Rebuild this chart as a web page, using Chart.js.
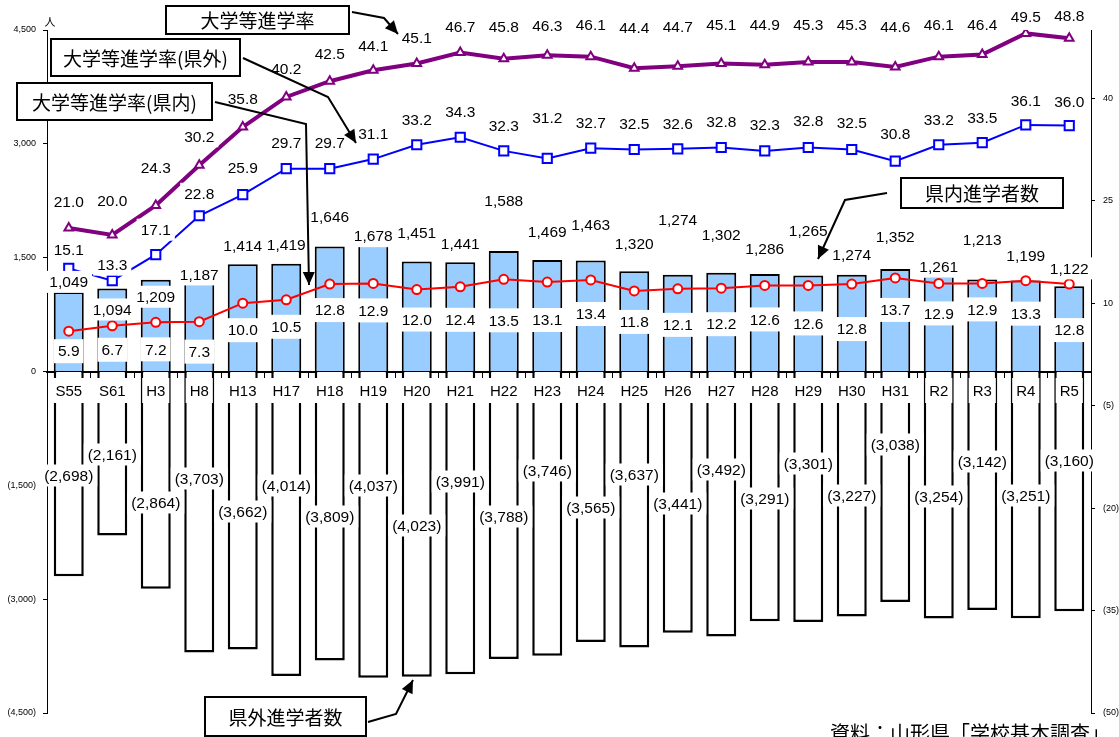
<!DOCTYPE html>
<html lang="ja">
<head>
<meta charset="utf-8">
<script src="https://cdn.jsdelivr.net/npm/chart.js@4.4.1/dist/chart.umd.min.js"></script>
<style>
  html, body { margin: 0; padding: 0; background: #fff; }
  #wrap { width: 1119px; height: 737px; position: relative; }
</style>
</head>
<body>
<div id="wrap"><canvas id="chart"></canvas></div>
<script>
// ---- data ----
const years = ['S55', 'S61', 'H3', 'H8', 'H13', 'H17', 'H18', 'H19', 'H20', 'H21', 'H22', 'H23',
               'H24', 'H25', 'H26', 'H27', 'H28', 'H29', 'H30', 'H31', 'R2', 'R3', 'R4', 'R5'];
const inPrefCount = [1049, 1094, 1209, 1187, 1414, 1419, 1646, 1678, 1451, 1441, 1588, 1469,
                     1463, 1320, 1274, 1302, 1286, 1265, 1274, 1352, 1261, 1213, 1199, 1122];
const outPrefCount = [2698, 2161, 2864, 3703, 3662, 4014, 3809, 4037, 4023, 3991, 3788, 3746,
                      3565, 3637, 3441, 3492, 3291, 3301, 3227, 3038, 3254, 3142, 3251, 3160];
const rateTotal = [21.0, 20.0, 24.3, 30.2, 35.8, 40.2, 42.5, 44.1, 45.1, 46.7, 45.8, 46.3,
                   46.1, 44.4, 44.7, 45.1, 44.9, 45.3, 45.3, 44.6, 46.1, 46.4, 49.5, 48.8];
const rateOut = [15.1, 13.3, 17.1, 22.8, 25.9, 29.7, 29.7, 31.1, 33.2, 34.3, 32.3, 31.2,
                 32.7, 32.5, 32.6, 32.8, 32.3, 32.8, 32.5, 30.8, 33.2, 33.5, 36.1, 36.0];
const rateIn = [5.9, 6.7, 7.2, 7.3, 10.0, 10.5, 12.8, 12.9, 12.0, 12.4, 13.5, 13.1,
                13.4, 11.8, 12.1, 12.2, 12.6, 12.6, 12.8, 13.7, 12.9, 12.9, 13.3, 12.8];
const countTicks = [-4500, -3000, -1500, 0, 1500, 3000, 4500];
const rateTicks = [-50, -35, -20, -5, 10, 25, 40];

// label nudges in px (the labels were dragged by hand in the original)
const nudgeTotal = [-26, -34, -38, -29, -28, -28, -28, -25, -26, -26, -32, -30,
                    -32, -41, -39, -39, -40, -37, -37, -40, -32, -30, -17, -22];
const nudgeOut = [-19, -16, -25, -22, -27, -26, -26, -25, -25, -26, -25, -41,
                  -25, -26, -25, -26, -26, -27, -27, -27, -25, -25, -24, -24];
const nudgeIn = [20, 24, 27, 30, 27, 27, 26, 27, 30, 33, 41, 38,
                 34, 31, 36, 36, 34, 38, 45, 32, 30, 26, 33, 46];
const nudgeInCount = [-10, 21, 17, -7, -18, -19, -30, -8, -29, -18, -50, -28,
                      -36, -28, -55, -38, -25, -45, -20, -32, -9, -40, -25, -18];
const nudgeOutCount = [104, 83, 131, 107, 140, 114, 145, 114, 154, 110, 145, 99,
                       136, 103, 132, 98, 127, 92, 124, 73, 125, 90, 124, 89];

const NUM_FONT = '"Liberation Sans", Arial, sans-serif';
const JP_FONT = '"Noto Sans CJK JP", "Noto Sans", sans-serif';

const fmt = v => v.toLocaleString('en-US');

// ----------------------------------------------------
// category labels on the zero line + value labels, all in white boxes
// ----------------------------------------------------
const valueLabels = {
    id: 'valueLabels',
    afterDraw(chart) {
        const ctx = chart.ctx;
        const xScale = chart.scales.x;
        const zeroY = chart.scales.y.getPixelForValue(0);
        ctx.save();
        ctx.textAlign = 'center';
        ctx.textBaseline = 'middle';
        const put = (text, x, y, h) => {
            const w = ctx.measureText(text).width + 8;
            ctx.fillStyle = '#fff';
            ctx.fillRect(x - w / 2, y - h / 2, w, h);
            ctx.fillStyle = '#000';
            ctx.fillText(text, x, y + 1);
        };

        ctx.font = '15px ' + NUM_FONT;
        years.forEach((yr, i) => put(yr, xScale.getPixelForValue(i), zeroY + 19, 25));

        ctx.font = '15.5px ' + NUM_FONT;
        chart.getDatasetMeta(0).data.forEach((el, i) => put(fmt(inPrefCount[i]), el.x, el.y + nudgeInCount[i], 22));
        chart.getDatasetMeta(1).data.forEach((el, i) => put('(' + fmt(outPrefCount[i]) + ')', el.x, zeroY + nudgeOutCount[i], 22));
        chart.getDatasetMeta(2).data.forEach((el, i) => put(rateTotal[i].toFixed(1), el.x, el.y + nudgeTotal[i], 22));
        chart.getDatasetMeta(3).data.forEach((el, i) => put(rateOut[i].toFixed(1), el.x, el.y + nudgeOut[i], 22));
        chart.getDatasetMeta(4).data.forEach((el, i) => put(rateIn[i].toFixed(1), el.x, el.y + nudgeIn[i], 24));
        ctx.restore();
    }
};

// ----------------------------------------------------
// callout boxes, arrows, unit and source
// ----------------------------------------------------
const callouts = [
    { text: '大学等進学率', box: [166, 6, 183, 28], path: [[352, 12], [384, 18], [398, 34]] },
    { text: '大学等進学率(県外)', box: [51, 39, 189, 37], path: [[243, 58], [328, 97], [356, 143]] },
    { text: '大学等進学率(県内)', box: [17, 83, 195, 37], path: [[215, 102], [306, 124], [309, 285]] },
    { text: '県内進学者数', box: [901, 178, 162, 30], path: [[887, 193], [845, 200], [818, 259]] },
    { text: '県外進学者数', box: [205, 697, 161, 39], path: [[368, 722], [396, 714], [413, 680]] }
];

const annotations = {
    id: 'annotations',
    afterDraw(chart) {
        const ctx = chart.ctx;
        ctx.save();
        callouts.forEach(c => {
            const p = c.path;
            ctx.strokeStyle = '#000';
            ctx.lineWidth = 2;
            ctx.beginPath();
            ctx.moveTo(p[0][0], p[0][1]);
            for (let i = 1; i < p.length; i++) ctx.lineTo(p[i][0], p[i][1]);
            ctx.stroke();
            // arrow head
            const [x1, y1] = p[p.length - 2];
            const [x2, y2] = p[p.length - 1];
            const a = Math.atan2(y2 - y1, x2 - x1);
            ctx.fillStyle = '#000';
            ctx.beginPath();
            ctx.moveTo(x2, y2);
            ctx.lineTo(x2 - 13 * Math.cos(a) + 6 * Math.sin(a), y2 - 13 * Math.sin(a) - 6 * Math.cos(a));
            ctx.lineTo(x2 - 13 * Math.cos(a) - 6 * Math.sin(a), y2 - 13 * Math.sin(a) + 6 * Math.cos(a));
            ctx.closePath();
            ctx.fill();

            const [bx, by, bw, bh] = c.box;
            ctx.fillStyle = '#fff';
            ctx.fillRect(bx, by, bw, bh);
            ctx.strokeRect(bx, by, bw, bh);
            ctx.fillStyle = '#000';
            ctx.font = '19px ' + JP_FONT;
            ctx.textAlign = 'center';
            ctx.textBaseline = 'middle';
            ctx.fillText(c.text, bx + bw / 2, by + bh / 2 + 1);
        });

        ctx.font = '11px ' + JP_FONT;
        ctx.textAlign = 'center';
        ctx.textBaseline = 'middle';
        ctx.fillText('人', 50, 22);

        ctx.font = '20px ' + JP_FONT;
        ctx.textAlign = 'left';
        ctx.textBaseline = 'alphabetic';
        ctx.fillText('資料：山形県「学校基本調査」', 830, 741);
        ctx.restore();
    }
};

new Chart(document.getElementById('chart'), {
    type: 'bar',
    data: {
        labels: years,
        datasets: [
            {
                label: '県内進学者数',
                data: inPrefCount,
                backgroundColor: '#99CCFF',
                borderColor: '#000',
                borderWidth: 2,
                barPercentage: 0.69,
                categoryPercentage: 1,
                yAxisID: 'y',
                order: 2
            },
            {
                label: '県外進学者数',
                data: outPrefCount.map(v => -v),
                backgroundColor: '#FFFFFF',
                borderColor: '#000',
                borderWidth: 2.5,
                barPercentage: 0.69,
                categoryPercentage: 1,
                yAxisID: 'y',
                order: 2
            },
            {
                type: 'line',
                label: '大学等進学率',
                data: rateTotal,
                borderColor: '#800080',
                borderWidth: 4,
                pointStyle: 'triangle',
                pointRadius: 5,
                pointBorderWidth: 2,
                pointBackgroundColor: '#fff',
                pointBorderColor: '#800080',
                yAxisID: 'y2',
                order: 0
            },
            {
                type: 'line',
                label: '大学等進学率(県外)',
                data: rateOut,
                borderColor: '#0000FF',
                borderWidth: 2,
                pointStyle: 'rect',
                pointRadius: 6.5,
                pointBorderWidth: 2,
                pointBackgroundColor: '#fff',
                pointBorderColor: '#0000FF',
                yAxisID: 'y2',
                order: 0
            },
            {
                type: 'line',
                label: '大学等進学率(県内)',
                data: rateIn,
                borderColor: '#FF0000',
                borderWidth: 2,
                pointStyle: 'circle',
                pointRadius: 4.5,
                pointBorderWidth: 2,
                pointBackgroundColor: '#fff',
                pointBorderColor: '#FF0000',
                yAxisID: 'y2',
                order: 0
            }
        ]
    },
    options: {
        responsive: true,
        maintainAspectRatio: false,
        animation: false,
        layout: { padding: { top: 30, bottom: 24, left: 0, right: 0 } },
        plugins: {
            legend: { display: false },
            tooltip: { enabled: false }
        },
        scales: {
            x: {
                stacked: true,
                position: { y: 0 },
                z: 1,
                offset: true,
                grid: { drawOnChartArea: false, offset: true, tickLength: 5, color: '#000' },
                border: { display: true, color: '#000', width: 2 },
                ticks: { display: false }
            },
            y: {
                stacked: true,
                position: 'left',
                min: -4500,
                max: 4500,
                afterBuildTicks: s => { s.ticks = countTicks.map(v => ({ value: v })); },
                afterFit: s => { s.width = 47; },
                grid: { drawOnChartArea: false, tickLength: 4, color: '#000' },
                border: { display: true, color: '#000', width: 1 },
                ticks: {
                    color: '#000',
                    padding: 7,
                    font: { size: 9, family: NUM_FONT },
                    callback: v => v < 0 ? '(' + fmt(-v) + ')' : fmt(v)
                }
            },
            y2: {
                axis: 'y',
                position: 'right',
                min: -50,
                max: 50,
                afterBuildTicks: s => { s.ticks = rateTicks.map(v => ({ value: v })); },
                afterFit: s => { s.width = 28; },
                grid: { drawOnChartArea: false, tickLength: 4, color: '#000' },
                border: { display: true, color: '#000', width: 1 },
                ticks: {
                    color: '#000',
                    padding: 8,
                    font: { size: 9, family: NUM_FONT },
                    callback: v => v < 0 ? '(' + (-v) + ')' : String(v)
                }
            }
        }
    },
    plugins: [valueLabels, annotations]
});
</script>
</body>
</html>
